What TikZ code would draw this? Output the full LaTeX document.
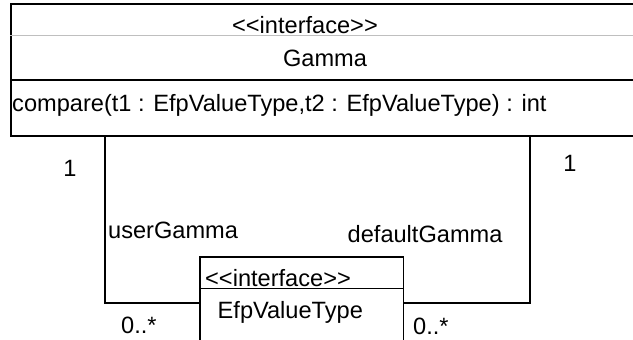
\documentclass[tikz,border=0pt]{standalone}
\usepackage{fontspec}
\setmainfont{Liberation Sans}
\begin{document}
\begin{tikzpicture}[x=1pt,y=-1pt,
  txt/.style={inner sep=0pt,font=\fontsize{23.6}{28}\selectfont},
  boxline/.style={draw=black,line width=1.9pt},
  conn/.style={draw=black,line width=1.5pt},
  graysep/.style={draw=black!25,line width=1pt}]
\useasboundingbox (0,0) rectangle (633,340);
\clip (0,0) rectangle (633,340);
\fill[white] (0,0) rectangle (633,340);
% Gamma interface box
\node[boxline,rectangle,inner sep=0pt,minimum width=632pt,minimum height=132pt,anchor=north west] (gamma) at (10,3) {};
\draw[graysep] (gamma.west |- 0,35) -- (gamma.east |- 0,35);
\draw[boxline] (gamma.west |- 0,80) -- (gamma.east |- 0,80);
\node[txt,anchor=base] (gster) at (305,33) {<{}<interface>{}>};
\node[txt,anchor=base] (gname) at (325,66) {Gamma};
\node[txt,anchor=base west] (gop) at (12,111.5) {compare(t1 : EfpValueType,t2 : EfpValueType) : int};
% EfpValueType interface box
\node[boxline,rectangle,inner sep=0pt,minimum width=203.5pt,minimum height=92pt,anchor=north west] (efp) at (199,256) {};
\draw[boxline,line width=1.3pt] (efp.west |- 0,288.5) -- (efp.east |- 0,288.5);
\node[txt,anchor=base west] (ester) at (205,286.5) {<{}<interface>{}>};
\node[txt,anchor=base west] (ename) at (217.5,318.3) {EfpValueType};
% connectors
\coordinate (lc) at (105,0);
\coordinate (rc) at (530,0);
\draw[conn] (gamma.south -| lc) |- (efp.west);
\draw[conn] (gamma.south -| rc) |- (efp.east);
% labels
\node[txt,anchor=base] (m1) at (70,176.7) {1};
\node[txt,anchor=base] (m2) at (570,171.7) {1};
\node[txt,anchor=base west] (r1) at (108,238.5) {userGamma};
\node[txt,anchor=base west] (r2) at (347.5,242.7) {defaultGamma};
\node[txt,anchor=base west] (c1) at (121,333) {0..*};
\node[txt,anchor=base west] (c2) at (413,334) {0..*};
\end{tikzpicture}
\end{document}
